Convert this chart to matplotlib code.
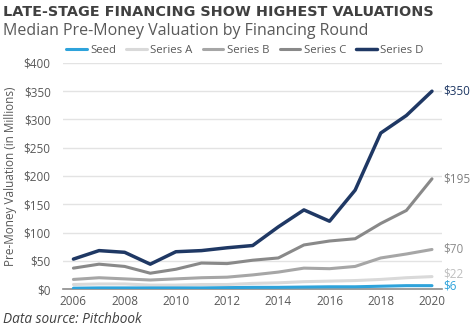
import matplotlib.pyplot as plt

# valeurs médianes (en millions $) par tour de financement
years = list(range(2006, 2021))
seed = [1.5, 2, 2, 2, 2, 2, 2.5, 3, 3, 3.5, 4, 4, 5, 6, 6]
series_a = [8, 9, 9, 7, 7, 8, 8, 10, 11, 13, 14, 15, 17, 20, 22]
series_b = [17, 20, 18, 16, 18, 20, 21, 25, 30, 37, 36, 40, 55, 62, 70]
series_c = [37, 44, 40, 28, 35, 46, 45, 51, 55, 78, 85, 89, 116, 139, 195]
series_d = [53, 68, 65, 44, 66, 68, 73, 77, 110, 140, 120, 175, 276, 307, 350]

names = ['Seed', 'Series A', 'Series B', 'Series C', 'Series D']
colors = ['#2EA3DB', '#D9D9D9', '#A6A6A6', '#898989', '#1F3864']
label_colors = ['#2EA3DB', '#BFBFBF', '#8C8C8C', '#7F7F7F', '#1F3864']
values = [seed, series_a, series_b, series_c, series_d]

plt.rcParams['font.family'] = ['Open Sans', 'DejaVu Sans']

fig = plt.figure(figsize=(4.75, 3.33), dpi=100)
ax = fig.add_axes([0.133, 0.132, 0.798, 0.679])

for name, col, vals in reversed(list(zip(names, colors, values))):
    lw = 2.5 if name == 'Series D' else 2.2
    ax.plot(years, vals, color=col, lw=lw, label=name, solid_capstyle='round', zorder=3)

# étiquettes de la dernière valeur
offsets = {'Seed': -1, 'Series A': 4, 'Series B': 0, 'Series C': 0, 'Series D': 0}
for name, col, vals in zip(names, label_colors, values):
    ax.annotate(f'${vals[-1]:g}', xy=(years[-1], vals[-1] + offsets[name]),
                xytext=(8, 0), textcoords='offset points', va='center', ha='left',
                color=col, fontsize=8.5, annotation_clip=False)

ax.set_xlim(2005.6, 2020.4)
ax.set_ylim(0, 400)
ax.set_xticks(range(2006, 2021, 2))
ax.set_yticks(range(0, 401, 50))
ax.set_yticklabels([f'${v}' for v in range(0, 401, 50)])
ax.tick_params(axis='y', length=0, labelsize=8.5, colors='#595959', pad=9)
ax.tick_params(axis='x', length=0, labelsize=8.5, colors='#595959', pad=4)
ax.grid(axis='y', color='#E3E3E3', lw=1)
ax.set_axisbelow(True)
for s in ['top', 'right', 'left']:
    ax.spines[s].set_visible(False)
ax.spines['bottom'].set_color('#8C8C8C')
ax.spines['bottom'].set_linewidth(1.2)
ax.set_ylabel('Pre-Money Valuation (in Millions)', fontsize=8.5, color='#595959', labelpad=5)

handles, labels = ax.get_legend_handles_labels()
leg = ax.legend(handles[::-1], labels[::-1], ncol=5, loc='lower left',
                bbox_to_anchor=(-0.01, 1.0), frameon=False, fontsize=8.2,
                handlelength=1.8, handletextpad=0.3, columnspacing=0.9,
                borderaxespad=0.2, labelcolor='#595959')

fig.text(0.006, 0.965, 'LATE-STAGE FINANCING SHOW HIGHEST VALUATIONS', fontsize=10.4,
         fontweight='bold', color='#404040', va='center', ha='left', family=['DejaVu Sans'])
fig.text(0.006, 0.908, 'Median Pre-Money Valuation by Financing Round', fontsize=11.5,
         color='#595959', va='center', ha='left')
fig.text(0.006, 0.04, 'Data source: Pitchbook', fontsize=9.8, style='italic',
         color='#404040', va='center', ha='left')

plt.savefig('out.png', dpi=100)
